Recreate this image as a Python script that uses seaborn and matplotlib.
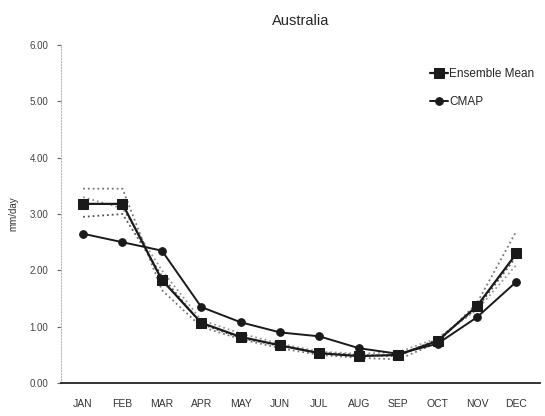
import pandas as pd
import matplotlib
matplotlib.use("Agg")
import matplotlib.pyplot as plt
import seaborn as sns

# Data
months = ["JAN", "FEB", "MAR", "APR", "MAY", "JUN", "JUL", "AUG", "SEP", "OCT", "NOV", "DEC"]
ensemble_mean = [3.18, 3.18, 1.83, 1.07, 0.82, 0.67, 0.53, 0.48, 0.50, 0.75, 1.37, 2.30]
cmap = [2.65, 2.50, 2.35, 1.35, 1.08, 0.90, 0.83, 0.62, 0.52, 0.70, 1.17, 1.80]
member_a = [3.45, 3.45, 1.65, 1.00, 0.78, 0.62, 0.50, 0.45, 0.42, 0.72, 1.42, 2.70]
member_b = [3.30, 3.10, 2.00, 1.12, 0.88, 0.70, 0.56, 0.52, 0.55, 0.80, 1.30, 2.10]
member_c = [2.95, 3.00, 1.90, 1.05, 0.80, 0.66, 0.54, 0.50, 0.48, 0.78, 1.33, 2.25]

df = pd.DataFrame({"month": range(len(months)), "Ensemble Mean": ensemble_mean, "CMAP": cmap})
members = [member_a, member_b, member_c]

sns.set_style("white")
plt.rcParams["font.family"] = ["Liberation Sans", "DejaVu Sans"]

fig = plt.figure(figsize=(5.45, 4.16), dpi=100)
ax = fig.add_axes([0.112, 0.079, 0.879, 0.813])

# faint dotted ensemble members
for m, col in zip(members, ["#777777", "#999999", "#555555"]):
    sns.lineplot(x=df["month"], y=m, ax=ax, color=col, linestyle=":", linewidth=1.3, legend=False)

sns.lineplot(data=df, x="month", y="Ensemble Mean", ax=ax, color="#1a1a1a", marker="s",
             markersize=6.5, linewidth=1.6, markeredgecolor="#1a1a1a", label="Ensemble Mean")
sns.lineplot(data=df, x="month", y="CMAP", ax=ax, color="#1a1a1a", marker="o",
             markersize=5.5, linewidth=1.4, markeredgecolor="#1a1a1a", label="CMAP")

ax.set_xlim(-0.56, 11.6)
ax.set_ylim(0, 6)
ax.set_yticks([0, 1, 2, 3, 4, 5, 6])
ax.set_yticklabels(["0.00", "1.00", "2.00", "3.00", "4.00", "5.00", "6.00"], fontsize=7, color="#444444")
ax.set_xticks(range(12))
ax.set_xticklabels(months, fontsize=7.5, color="#333333")
ax.set_xlabel("")
ax.set_ylabel("mm/day", fontsize=7, color="#333333", labelpad=8)
ax.set_title("Australia", fontsize=10.5, pad=14)

for s in ["top", "right"]:
    ax.spines[s].set_visible(False)
ax.spines["left"].set_linestyle(":")
ax.spines["left"].set_color("#bbbbbb")
ax.spines["bottom"].set_color("#222222")
ax.spines["bottom"].set_linewidth(1.3)
ax.tick_params(axis="y", left=True, length=3, width=0.8, color="#666666", pad=6)
ax.tick_params(axis="x", bottom=False, pad=8)

ax.legend(loc="upper right", bbox_to_anchor=(1.01, 0.962), frameon=False, fontsize=8.5,
          handlelength=1.5, handletextpad=0.1, labelspacing=1.3)

fig.savefig("out.png", dpi=100)
